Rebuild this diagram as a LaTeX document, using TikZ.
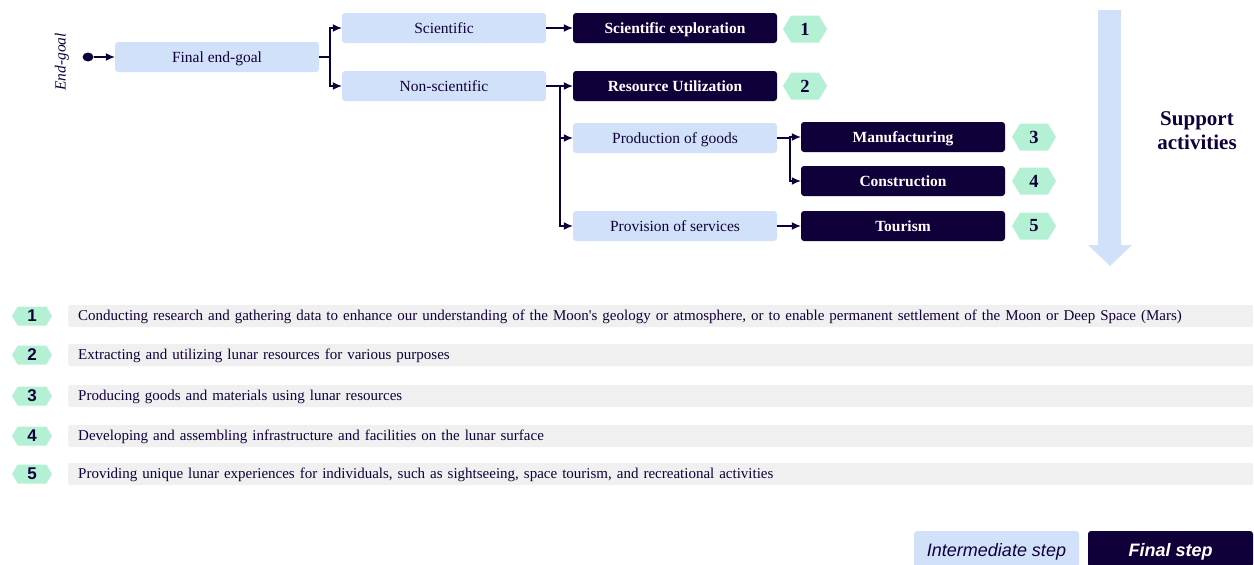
\documentclass[tikz,border=0pt]{standalone}
\usepackage{fontspec}
\setmainfont{Liberation Serif}
\newfontfamily\keyfont{Liberation Sans}
\usepackage{xcolor}
\usetikzlibrary{positioning,arrows.meta,shapes.symbols,shapes.geometric}

\definecolor{navy}{HTML}{10003A}
\definecolor{paleblue}{HTML}{D2E1FA}
\definecolor{mint}{HTML}{B4F0D4}
\definecolor{rowgray}{HTML}{F0F0F0}

\tikzset{
  interstep/.style={fill=paleblue, rounded corners=3pt, minimum width=204pt, minimum height=30pt,
    inner sep=0pt, text height=13pt, text depth=2pt, text=navy, font=\fontsize{15.5}{18}\selectfont},
  finalstep/.style={fill=navy, rounded corners=3pt, minimum width=204pt, minimum height=30pt,
    inner sep=0pt, text height=12pt, text depth=2pt, text=white, font=\bfseries\fontsize{15.5}{18}\selectfont},
  numtag/.style={shape=signal, signal to=east and west, signal pointer angle=118, fill=mint,
    minimum width=44pt, minimum height=27pt, inner sep=0pt, text=navy, font=\bfseries\fontsize{18.5}{20}\selectfont},
  keytag/.style={numtag, minimum width=40pt, minimum height=19pt, font=\keyfont\bfseries\fontsize{17}{18}\selectfont},
  rowbox/.style={fill=rowgray, rounded corners=2pt, anchor=west, minimum height=22pt, inner ysep=0pt,
    inner xsep=10pt, text width=1165pt, align=left, text height=11pt, text depth=3pt,
    text=navy, font=\fontsize{15}{18}\selectfont},
  link/.style={draw=navy, line width=1.2pt, -{Latex[length=9pt,width=8pt]}},
  legendbox/.style={rounded corners=3pt, minimum width=165pt, minimum height=36pt, inner sep=0pt,
    text height=16pt, text depth=2pt, font=\keyfont\itshape\fontsize{18}{20}\selectfont},
}

\begin{document}
\begin{tikzpicture}[x=1pt, y=-1pt]
\useasboundingbox (0,0) rectangle (1254,565);

% support arrow
\fill[paleblue] (1098,10) -- (1121,10) -- (1121,245) -- (1132,245) -- (1110,266)
  -- (1088,245) -- (1098,245) -- cycle;
\node[text=navy, font=\bfseries\fontsize{21}{24}\selectfont, align=center] (support) at (1197,131) {Support\\activities};

% tree
\node[rotate=90, text=navy, font=\itshape\fontsize{15.5}{18}\selectfont] (endgoal) at (62,62) {End-goal};
\node[ellipse, fill=navy, minimum width=11pt, minimum height=9pt, inner sep=0pt] (start) at (88,57) {};
\node[interstep] (final) at (217,57) {Final end-goal};

\node[interstep] (sci) at (444,28) {Scientific};
\node[interstep] (nonsci) at (444,86) {Non-scientific};
\node[interstep] (prod) at (675,138) {Production of goods};
\node[interstep] (serv) at (675,226) {Provision of services};

\node[finalstep] (explore) at (675,28) {Scientific exploration};
\node[finalstep] (resource) at (675,86) {Resource Utilization};
\node[finalstep] (manuf) at (903,137) {Manufacturing};
\node[finalstep] (constr) at (903,181) {Construction};
\node[finalstep] (tourism) at (903,226) {Tourism};

\node[numtag] (tag1) at (805,29) {1};
\node[numtag] (tag2) at (805,86) {2};
\node[numtag] (tag3) at (1034,137) {3};
\node[numtag] (tag4) at (1034,181) {4};
\node[numtag] (tag5) at (1034,226) {5};

\coordinate (splitgoal) at (330,57);
\coordinate (splitnon) at (560,86);
\coordinate (splitprod) at (790,138);

\draw[link] (start) -- (final);
\draw[link] (final.east) -- (splitgoal) |- (sci.west);
\draw[link] (final.east) -- (splitgoal) |- (nonsci.west);
\draw[link] (sci) -- (explore);
\draw[link] (nonsci) -- (resource);
\draw[link] (splitnon) |- (prod.west);
\draw[link] (splitnon) |- (serv.west);
\draw[link] (prod.east) -- (splitprod) |- (manuf.west);
\draw[link] (prod.east) -- (splitprod) |- (constr.west);
\draw[link] (serv) -- (tourism);

% descriptions
\foreach \n/\y/\txt in {
  1/316/{Conducting research and gathering data to enhance our understanding of the Moon\textquotesingle s geology or atmosphere, or to enable permanent settlement of the Moon or Deep Space (Mars)},
  2/355/{Extracting and utilizing lunar resources for various purposes},
  3/396/{Producing goods and materials using lunar resources},
  4/436/{Developing and assembling infrastructure and facilities on the lunar surface},
  5/474/{Providing unique lunar experiences for individuals, such as sightseeing, space tourism, and recreational activities}} {
  \node[keytag] (key\n) at (32,\y) {\n};
  \node[rowbox] (row\n) at (68,\y) {\txt};
}

% legend
\node[legendbox, fill=paleblue, text=navy] (leginter) at (996.5,549) {Intermediate step};
\node[legendbox, fill=navy, text=white, font=\keyfont\bfseries\itshape\fontsize{18}{20}\selectfont] (legfinal) at (1170.5,549) {Final step};

\end{tikzpicture}
\end{document}
